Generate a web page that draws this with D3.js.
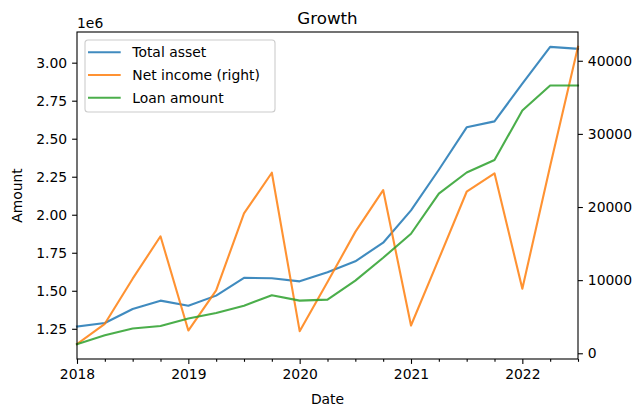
<!DOCTYPE html>
<html>
<head>
<meta charset="utf-8">
<script src="https://cdn.jsdelivr.net/npm/d3@7"></script>
<style>
  body { margin: 0; background: #fff; }
  text { font-family: "DejaVu Sans", sans-serif; }
</style>
</head>
<body>
<div id="chart"></div>
<script>
// quarterly data
var quarters = ['2018Q1', '2018Q2', '2018Q3', '2018Q4', '2019Q1', '2019Q2', '2019Q3', '2019Q4',
  '2020Q1', '2020Q2', '2020Q3', '2020Q4', '2021Q1', '2021Q2', '2021Q3', '2021Q4',
  '2022Q1', '2022Q2', '2022Q3'];
var totalAsset = [1265000, 1288000, 1380000, 1435000, 1402000, 1468000, 1585000, 1582000,
  1562000, 1622000, 1694000, 1816000, 2029000, 2296000, 2575000, 2614000,
  2862000, 3104000, 3091000];
var netIncome = [1250, 4030, 10200, 16000, 3110, 8600, 19120, 24690,
  3020, 9740, 16600, 22320, 3800, 12900, 22090, 24610,
  8830, 25600, 41900];
var loanAmount = [1149000, 1208000, 1252000, 1268000, 1318000, 1354000, 1402000, 1470000,
  1435000, 1442000, 1567000, 1717000, 1875000, 2139000, 2278000, 2360000,
  2685000, 2850000, 2850000];
var yearTicks = [2018, 2019, 2020, 2021, 2022];
var leftTicks = [1250000, 1500000, 1750000, 2000000, 2250000, 2500000, 2750000, 3000000];
var rightTicks = [0, 10000, 20000, 30000, 40000];

var W = 639, H = 414;
var margin = { top: 32, right: 61, bottom: 55, left: 77 },
    width = W - margin.left - margin.right,
    height = H - margin.top - margin.bottom;

// quarter string -> fractional year
function qpos(q) { return +q.slice(0, 4) + (+q.slice(5) - 1) / 4; }

var svg = d3.select('#chart')
  .append('svg')
    .attr('width', W)
    .attr('height', H)
  .append('g')
    .attr('transform', 'translate(' + margin.left + ',' + margin.top + ')');

var x = d3.scaleLinear()
  .domain(d3.extent(quarters, qpos))
  .range([0, width]);

function padded(vals) {
  var lo = d3.min(vals), hi = d3.max(vals), r = hi - lo;
  return [lo - 0.05 * r, hi + 0.05 * r];
}

var yL = d3.scaleLinear()
  .domain(padded(totalAsset.concat(loanAmount)))
  .range([height, 0]);
var yR = d3.scaleLinear()
  .domain(padded(netIncome))
  .range([height, 0]);

var fs = '13.9px';

// minor quarter ticks
var minor = quarters.map(qpos).filter(function(v) { return v % 1 !== 0; });
svg.append('g')
  .attr('transform', 'translate(0,' + height + ')')
  .call(d3.axisBottom(x).tickValues(minor).tickSize(2.8).tickFormat(''))
  .call(g => g.select('.domain').remove());

svg.append('g')
  .attr('transform', 'translate(0,' + height + ')')
  .call(d3.axisBottom(x).tickValues(yearTicks).tickSize(4.9).tickPadding(4.9).tickFormat(d3.format('d')))
  .call(g => g.select('.domain').remove())
  .selectAll('text').attr('font-size', fs).attr('fill', '#000');

svg.append('g')
  .call(d3.axisLeft(yL).tickValues(leftTicks).tickSize(4.9).tickPadding(4.9)
    .tickFormat(function(d) { return (d / 1e6).toFixed(2); }))
  .call(g => g.select('.domain').remove())
  .selectAll('text').attr('font-size', fs).attr('fill', '#000');

svg.append('g')
  .attr('transform', 'translate(' + width + ',0)')
  .call(d3.axisRight(yR).tickValues(rightTicks).tickSize(4.9).tickPadding(4.9).tickFormat(d3.format('d')))
  .call(g => g.select('.domain').remove())
  .selectAll('text').attr('font-size', fs).attr('fill', '#000');

svg.selectAll('.tick line').attr('stroke', '#000').attr('stroke-width', 1.1);

// lines
var series = [
  { name: 'Total asset', values: totalAsset, y: yL, color: '#1f77b4' },
  { name: 'Net income (right)', values: netIncome, y: yR, color: '#ff7f0e' },
  { name: 'Loan amount', values: loanAmount, y: yL, color: '#2ca02c' }
];

var plot = svg.append('g');

series.forEach(function(s) {
  var line = d3.line()
    .x(function(d, i) { return x(qpos(quarters[i])); })
    .y(function(d) { return s.y(d); });
  plot.append('path')
    .datum(s.values)
    .attr('fill', 'none')
    .attr('stroke', s.color)
    .attr('stroke-opacity', 0.85)
    .attr('stroke-width', 2.1)
    .attr('stroke-linejoin', 'round')
    .attr('stroke-linecap', 'square')
    .attr('d', line);
});

// frame
svg.append('rect')
  .attr('width', width)
  .attr('height', height)
  .attr('fill', 'none')
  .attr('stroke', '#000')
  .attr('stroke-width', 1.1);

// texts
svg.append('text')
  .attr('x', width / 2)
  .attr('y', -8)
  .attr('text-anchor', 'middle')
  .attr('font-size', '16.7px')
  .text('Growth');

svg.append('text')
  .attr('x', 0)
  .attr('y', -4)
  .attr('font-size', fs)
  .text('1e6');

svg.append('text')
  .attr('x', width / 2)
  .attr('y', height + 45)
  .attr('text-anchor', 'middle')
  .attr('font-size', fs)
  .text('Date');

svg.append('text')
  .attr('transform', 'translate(' + (22 - margin.left) + ',' + (height / 2) + ') rotate(-90)')
  .attr('text-anchor', 'middle')
  .attr('font-size', fs)
  .text('Amount');

// legend
var legend = svg.append('g').attr('transform', 'translate(8,8)');
legend.append('rect')
  .attr('width', 190)
  .attr('height', 72)
  .attr('rx', 3)
  .attr('fill', '#fff')
  .attr('fill-opacity', 0.8)
  .attr('stroke', '#cccccc')
  .attr('stroke-width', 1.1);

series.forEach(function(s, i) {
  var ly = 12.3 + i * 22.7;
  legend.append('line')
    .attr('x1', 3).attr('x2', 35.7)
    .attr('y1', ly).attr('y2', ly)
    .attr('stroke', s.color)
    .attr('stroke-opacity', 0.85)
    .attr('stroke-width', 2.1);
  legend.append('text')
    .attr('x', 47.3)
    .attr('y', ly + 5)
    .attr('font-size', fs)
    .text(s.name);
});
</script>
</body>
</html>
